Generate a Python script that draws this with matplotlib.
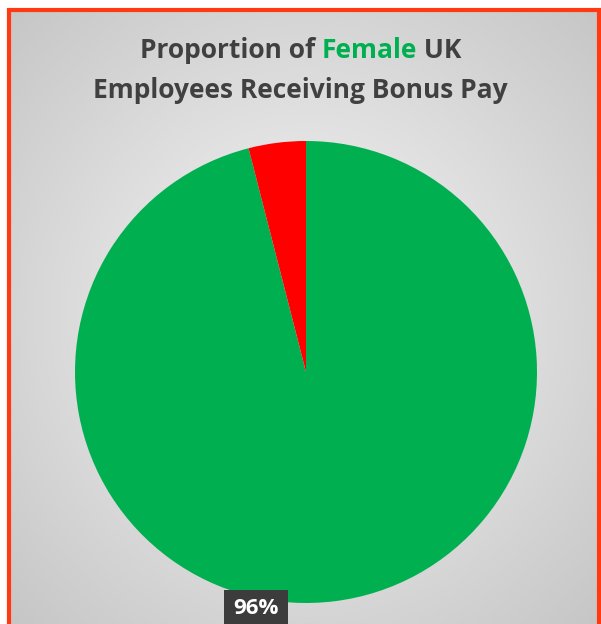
import numpy as np
import matplotlib
matplotlib.use('Agg')
import matplotlib.pyplot as plt
from matplotlib.patches import Rectangle

# data
labels = ['Receiving bonus', 'Not receiving bonus']
shares = [96, 4]
slice_colors = ['#00b050', '#ff0000']
pct_label = '96%'

W, H = 601, 624
fig = plt.figure(figsize=(W / 100, H / 100), dpi=100)
fig.patch.set_facecolor('white')

# radial grey background inside the frame
left, top = 9, 8
bg_ax = fig.add_axes([left / W, 0, (W - left - 1) / W, (H - top) / H])
bg_ax.set_axis_off()
yy, xx = np.mgrid[-1:1:300j, -1:1:300j]
r = np.sqrt(xx ** 2 + (yy * 1.0) ** 2) / np.sqrt(2)
grad = 0.965 - 0.19 * r
bg_ax.imshow(grad, cmap='gray', vmin=0, vmax=1, extent=[0, 1, 0, 1], aspect='auto', interpolation='bicubic')
bg_ax.set_xlim(0, 1)
bg_ax.set_ylim(0, 1)

# orange frame
fig.patches.append(Rectangle((left / W, -0.05), (W - left - 2) / W, (H - top) / H + 0.05 - 2 / H,
                             transform=fig.transFigure, fill=False, edgecolor='#ff3a12', linewidth=3, zorder=5))

# pie
cx, cy, rad = 306, 372, 231
ax = fig.add_axes([(cx - rad) / W, (H - cy - rad) / H, 2 * rad / W, 2 * rad / H])
ax.pie(shares, colors=slice_colors, startangle=90, counterclock=False, radius=1,
       wedgeprops=dict(linewidth=0))
ax.set_xlim(-1, 1)
ax.set_ylim(-1, 1)
ax.set_aspect('auto')
ax.set_axis_off()

# title, with "Female" in green
tfont = dict(family='Open Sans', weight='bold', size=19)
title_color = '#404040'
fig.canvas.draw()
renderer = fig.canvas.get_renderer()
parts = [('Proportion of ', title_color), ('Female', '#00b050'), (' UK', title_color)]
texts = []
for s, c in parts:
    t = fig.text(0, 1 - 50 / H, s, color=c, va='center', ha='left', **tfont)
    texts.append(t)
widths = [t.get_window_extent(renderer).width for t in texts]
x0 = (W - sum(widths)) / 2
for t, w in zip(texts, widths):
    t.set_x(x0 / W)
    x0 += w
fig.text(0.5, 1 - 90 / H, 'Employees Receiving Bonus Pay', color=title_color, ha='center', va='center', **tfont)

# data label
fig.text(256 / W, 1 - 609 / H, pct_label, color='white', ha='center', va='center',
         family='Open Sans', weight='bold', size=16,
         bbox=dict(boxstyle='square,pad=0.4', facecolor='#3c3c3c', edgecolor='none'))

fig.savefig('out.png', dpi=100)
